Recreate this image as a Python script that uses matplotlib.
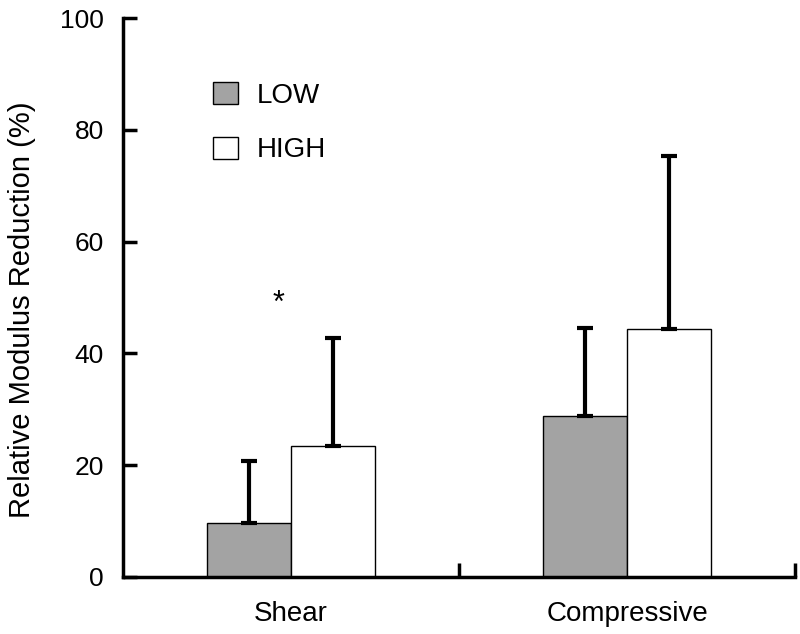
import matplotlib.pyplot as plt

plt.rcParams['font.family'] = ['Liberation Sans', 'DejaVu Sans']

# data
categories = ['Shear', 'Compressive']
groups = ['LOW', 'HIGH']
low_mean = [9.7, 28.8]
low_err = [11.1, 15.8]
high_mean = [23.5, 44.4]
high_err = [19.3, 31.0]
yticks = [0, 20, 40, 60, 80, 100]

fig = plt.figure(figsize=(8, 6.34), dpi=100)
ax = fig.add_axes([0.154, 0.090, 0.840, 0.8816])

centers = [0.5, 1.5]
w = 0.25
x_low = [c - w / 2 for c in centers]
x_high = [c + w / 2 for c in centers]

err_kw = dict(elinewidth=3, capsize=6, capthick=3, ecolor='black')
ax.bar(x_low, low_mean, width=w, color='#a3a3a3', edgecolor='black', linewidth=1,
       yerr=[[0, 0], low_err], error_kw=err_kw, label=groups[0], zorder=2)
ax.bar(x_high, high_mean, width=w, color='white', edgecolor='black', linewidth=1,
       yerr=[[0, 0], high_err], error_kw=err_kw, label=groups[1], zorder=2)

ax.text(0.462, 48.8, '*', fontsize=22, ha='center', va='center')

ax.set_xlim(0, 2)
ax.set_ylim(0, 100)
ax.set_yticks(yticks)
ax.set_xticks([1, 2])
ax.set_xticklabels([])
ax.set_xticks(centers, minor=True)
ax.set_xticklabels(categories, minor=True, fontsize=20)
ax.tick_params(axis='x', which='minor', length=0, pad=17)
ax.tick_params(axis='x', which='major', direction='in', length=10, width=2.5)
ax.tick_params(axis='y', direction='in', length=10, width=2.5, labelsize=19, pad=14)

for s in ['top', 'right']:
    ax.spines[s].set_visible(False)
for s in ['left', 'bottom']:
    ax.spines[s].set_linewidth(2.5)

ax.set_ylabel('Relative Modulus Reduction (%)', fontsize=21)
ax.yaxis.set_label_coords(-0.13, 0.478)

ax.legend(loc='upper left', bbox_to_anchor=(0.096, 0.93), frameon=False, fontsize=20,
          handlelength=0.9, handleheight=0.85, handletextpad=0.7, labelspacing=1.0)

fig.savefig('out.png', dpi=100)
